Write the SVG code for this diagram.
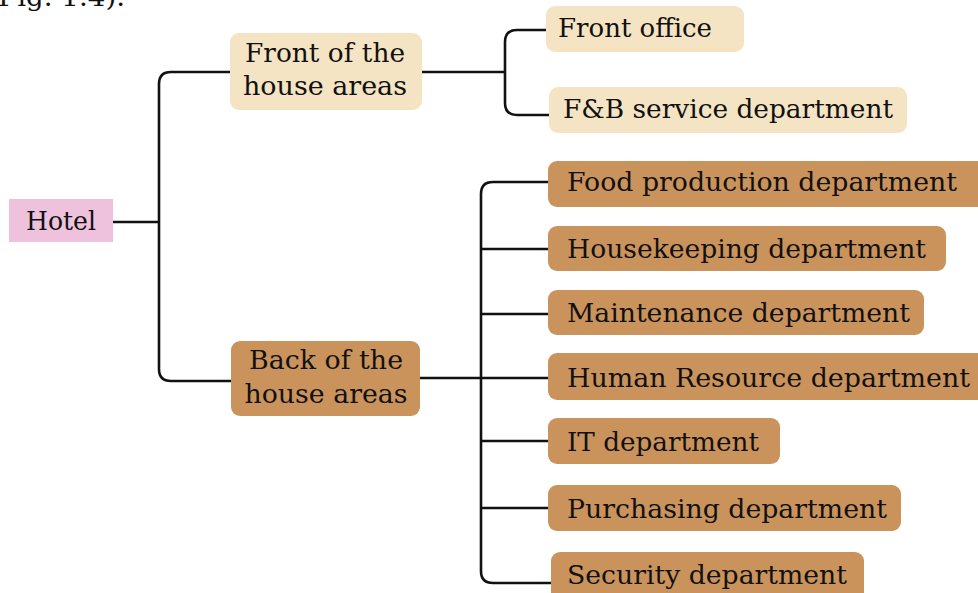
<svg xmlns="http://www.w3.org/2000/svg" width="978" height="593" viewBox="0 0 978 593">
<style>
text{font-family:"DejaVu Serif","Liberation Serif",serif;font-size:26px;fill:#111}
.c{text-anchor:middle}
.pink{fill:#EEC1DC}
.cream{fill:#F5E4C3}
.tan{fill:#CB935C}
.ln{fill:none;stroke:#111;stroke-width:2.6}
</style>
<rect width="978" height="593" fill="#fff"/>
<text x="-2" y="6" textLength="127" lengthAdjust="spacingAndGlyphs">Fig. 1.4).</text>
<g id="connectors" class="ln">
<path d="M113 222H159"/>
<path d="M230 72H171Q159 72 159 84V369Q159 381 171 381H231"/>
<path d="M422 72H505"/>
<path d="M547 30H517Q505 30 505 42V103Q505 115 517 115H549"/>
<path d="M420 378H548"/>
<path d="M549 182H493Q481 182 481 194V571Q481 583 493 583H551"/>
<path d="M481 249H548"/>
<path d="M481 314H548"/>
<path d="M481 441H548"/>
<path d="M481 508H548"/>
</g>
<g id="hotel"><rect class="pink" x="9" y="199" width="104" height="43"/><text x="61" y="230" class="c" textLength="70" lengthAdjust="spacingAndGlyphs">Hotel</text></g>
<g id="front"><rect class="cream" x="230" y="33" width="192" height="77" rx="9"/><text x="325" y="62" class="c" textLength="160" lengthAdjust="spacingAndGlyphs">Front of the</text><text x="325" y="95" class="c" textLength="164" lengthAdjust="spacingAndGlyphs">house areas</text></g>
<g id="frontoffice"><rect class="cream" x="546" y="6" width="198" height="46" rx="9"/><text x="558" y="37" textLength="154" lengthAdjust="spacingAndGlyphs">Front office</text></g>
<g id="fb"><rect class="cream" x="549" y="87" width="358" height="46" rx="9"/><text x="563" y="118" textLength="330" lengthAdjust="spacingAndGlyphs">F&amp;B service department</text></g>
<g id="back"><rect class="tan" x="231" y="341" width="189" height="75" rx="9"/><text x="326" y="369" class="c" textLength="154" lengthAdjust="spacingAndGlyphs">Back of the</text><text x="326" y="403" class="c" textLength="163" lengthAdjust="spacingAndGlyphs">house areas</text></g>
<g id="food"><rect class="tan" x="548" y="161" width="440" height="46" rx="9"/><text x="567" y="191" textLength="390" lengthAdjust="spacingAndGlyphs">Food production department</text></g>
<g id="housekeeping"><rect class="tan" x="548" y="226" width="398" height="45" rx="9"/><text x="567" y="258" textLength="359" lengthAdjust="spacingAndGlyphs">Housekeeping department</text></g>
<g id="maintenance"><rect class="tan" x="548" y="290" width="376" height="45" rx="9"/><text x="567" y="322" textLength="343" lengthAdjust="spacingAndGlyphs">Maintenance department</text></g>
<g id="hr"><rect class="tan" x="548" y="353" width="440" height="47" rx="9"/><text x="567" y="387" textLength="403" lengthAdjust="spacingAndGlyphs">Human Resource department</text></g>
<g id="it"><rect class="tan" x="548" y="418" width="232" height="46" rx="9"/><text x="567" y="451" textLength="192" lengthAdjust="spacingAndGlyphs">IT department</text></g>
<g id="purchasing"><rect class="tan" x="548" y="485" width="353" height="46" rx="9"/><text x="567" y="518" textLength="320" lengthAdjust="spacingAndGlyphs">Purchasing department</text></g>
<g id="security"><rect class="tan" x="551" y="552" width="313" height="50" rx="9"/><text x="567" y="584" textLength="280" lengthAdjust="spacingAndGlyphs">Security department</text></g>
</svg>
